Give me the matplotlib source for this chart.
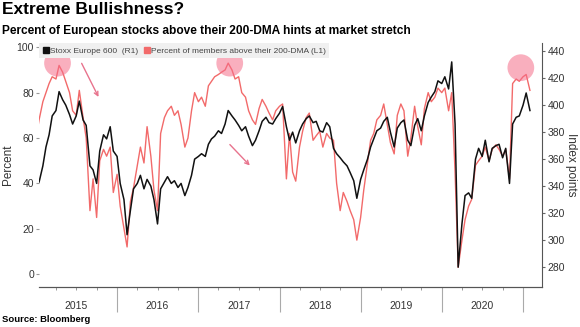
import numpy as np
import pandas as pd
import matplotlib
matplotlib.use("Agg")
import matplotlib.pyplot as plt
import matplotlib.dates as mdates
from matplotlib.lines import Line2D

# semi-monthly readings (1st and 15th), Jan 2015 - Feb 2021
dates = pd.date_range("2015-01-01", "2021-02-01", freq="SMS")

stoxx = [
    # 2015
    341, 343, 355, 369, 378, 392, 396, 410, 404, 400, 393, 386,
    392, 403, 389, 385, 355, 352, 342, 366, 378, 375, 384, 366,
    # 2016
    362, 342, 330, 304, 322, 338, 342, 348, 338, 345, 340, 330,
    312, 338, 343, 347, 342, 344, 339, 342, 333, 339, 348, 360,
    # 2017
    362, 364, 362, 371, 375, 377, 381, 379, 386, 396, 392, 389,
    385, 381, 384, 377, 370, 374, 381, 388, 391, 387, 386, 390,
    # 2018
    394, 399, 384, 374, 380, 372, 381, 386, 390, 392, 387, 388,
    381, 380, 387, 384, 368, 364, 361, 358, 355, 350, 344, 331,
    # 2019
    345, 352, 360, 369, 375, 381, 383, 388, 391, 380, 369, 383,
    387, 389, 374, 370, 385, 390, 381, 392, 402, 406, 410, 418,
    # 2020
    416, 421, 412, 432, 386, 280, 312, 333, 335, 331, 360, 368,
    362, 374, 358, 368, 370, 371, 361, 368, 342, 386, 391, 392,
    # 2021
    400, 409, 396,
]

pct_above = [
    # 2015
    60, 68, 76, 80, 84, 87, 86, 92, 89, 85, 80, 72,
    70, 81, 69, 60, 28, 42, 25, 50, 55, 52, 56, 36,
    # 2016
    44, 30, 20, 12, 32, 38, 48, 56, 49, 65, 52, 37,
    28, 62, 69, 72, 74, 70, 72, 66, 56, 60, 72, 80,
    # 2017
    76, 78, 74, 83, 85, 87, 88, 89, 90, 93, 90, 86,
    87, 80, 78, 72, 68, 66, 73, 77, 74, 71, 68, 72,
    # 2018
    74, 75, 42, 62, 45, 41, 56, 63, 69, 71, 59, 61,
    63, 56, 62, 60, 59, 40, 28, 36, 32, 28, 24, 15,
    # 2019
    25, 37, 49, 59, 62, 68, 70, 75, 66, 58, 53, 70,
    75, 72, 52, 60, 74, 65, 57, 73, 80, 76, 78, 82,
    # 2020
    80, 82, 72, 80, 45, 3, 15, 24, 30, 33, 48, 50,
    52, 56, 50, 55, 57, 55, 52, 55, 42, 84, 86, 85,
    # 2021
    87, 88, 81,
]

# highlighted peaks and arrows
circle_dates = pd.to_datetime(["2015-04-08", "2017-05-22", "2020-12-22"])
circle_pct = [93, 93, 91]
arrow_start = [("2015-07-20", 94), ("2017-05-14", 58)]
arrow_end = [("2015-10-15", 77), ("2017-08-29", 47)]

years = [2015, 2016, 2017, 2018, 2019, 2020]

red = "#f26a6a"
ink = "#333333"
plt.rcParams["font.family"] = ["Liberation Sans", "DejaVu Sans"]

fig = plt.figure(figsize=(5.8, 3.27), dpi=100)
ax = fig.add_axes([0.067, 0.122, 0.867, 0.746])
ax2 = ax.twinx()

ax.plot(dates, pct_above, color=red, lw=1.0)
ax2.plot(dates, stoxx, color="#111111", lw=1.1)

ax.scatter(circle_dates, circle_pct, s=370, color="#f56d8a", alpha=0.55,
           edgecolor="none", zorder=4)
for (d0, p0), (d1, p1) in zip(arrow_start, arrow_end):
    ax.annotate("", xy=(pd.Timestamp(d1), p1), xytext=(pd.Timestamp(d0), p0),
                arrowprops=dict(arrowstyle="->", color="#e8738d", lw=1.0,
                                mutation_scale=7))

ax.set_xlim(pd.Timestamp("2015-01-14"), pd.Timestamp("2021-03-26"))
ax.set_ylim(-5.7, 101.8)
ax2.set_ylim(265.2, 445.9)

ax.set_yticks([0, 20, 40, 60, 80, 100])
ax2.set_yticks([280, 300, 320, 340, 360, 380, 400, 420, 440])

# x axis: long year separators, short quarter ticks, year labels mid-year
ax.xaxis.set_major_locator(mdates.YearLocator())
ax.xaxis.set_minor_locator(mdates.MonthLocator(bymonth=[4, 7, 10]))
ax.xaxis.set_major_formatter(plt.NullFormatter())
ax.tick_params(axis="x", which="major", length=18, color="#aaaaaa", width=0.8)
ax.tick_params(axis="x", which="minor", length=2.5, color="#888888", width=0.6)
for yr in years:
    ax.text(pd.Timestamp(f"{yr}-07-01"), -0.078, str(yr), transform=ax.get_xaxis_transform(),
            ha="center", va="center", fontsize=7.5, color=ink)

ax.tick_params(axis="y", length=2, color="#999999", labelsize=7.5, labelcolor=ink, pad=1.5)
ax2.tick_params(axis="y", length=2.5, color="#666666", labelsize=7.5, labelcolor=ink, pad=1.5)

for a in (ax, ax2):
    a.spines["top"].set_visible(False)
    a.spines["left"].set_visible(False)
    a.spines["right"].set_color("#555555")
    a.spines["bottom"].set_color("#555555")
ax.spines["right"].set_visible(False)

ax.set_ylabel("Percent", fontsize=8.5, color=ink, labelpad=2)
ax2.set_ylabel("Index points", fontsize=8.5, color=ink, rotation=270, labelpad=9)

handles = [
    Line2D([], [], marker="s", ls="none", color="#111111", markersize=4),
    Line2D([], [], marker="s", ls="none", color=red, markersize=4),
]
leg = ax2.legend(handles, ["Stoxx Europe 600  (R1)", "Percent of members above their 200-DMA (L1)"],
                 loc="upper left", bbox_to_anchor=(0.0, 1.0), ncol=2, fontsize=6,
                 frameon=True, fancybox=False, borderaxespad=0, handletextpad=0.1,
                 columnspacing=0.6, handlelength=0.8, borderpad=0.45)
leg.get_frame().set_facecolor("#f0f0f0")
leg.get_frame().set_edgecolor("none")
leg.get_frame().set_alpha(1)
for t in leg.get_texts():
    t.set_color("#444444")

fig.text(0.003, 0.995, "Extreme Bullishness?", fontsize=12.5, fontweight="bold", va="top")
fig.text(0.003, 0.925, "Percent of European stocks above their 200-DMA hints at market stretch",
         fontsize=8.6, fontweight="bold", va="top")
fig.text(0.003, 0.008, "Source: Bloomberg", fontsize=6.8, fontweight="bold", va="bottom")

fig.savefig("out.png", dpi=100)
